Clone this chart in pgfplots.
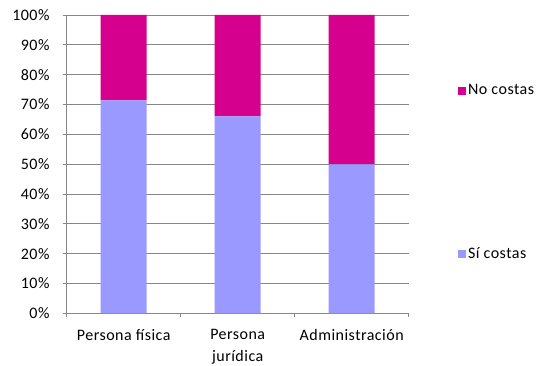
\documentclass[border=0pt]{standalone}
\usepackage{fontspec}
\setmainfont{Carlito}[LetterSpace=3]
\usepackage{pgfplots}
\pgfplotsset{compat=1.18}
\definecolor{mag}{HTML}{D6008F}
\definecolor{lav}{HTML}{9999FF}
\definecolor{gridc}{HTML}{878787}
\begin{document}
\fontsize{16pt}{22pt}\selectfont
\begin{tikzpicture}
\useasboundingbox (-66.7pt,-52.7pt) rectangle (475.3pt,313.3pt);
\begin{axis}[at={(0,0)}, anchor=south west, scale only axis,
  width=342pt, height=298.3pt,
  ybar stacked, bar width=46pt,
  xmin=-0.5, xmax=2.5, ymin=0, ymax=100,
  ytick={0,10,...,100},
  yticklabel={\pgfmathprintnumber{\tick}\%},
  /pgf/number format/assume math mode=true,
  xtick={0,1,2},
  xticklabels={Persona física, {Persona\\jurídica}, Administración},
  minor xtick={-0.5,0.5,1.5,2.5},
  major x tick style={draw=none},
  axis lines*=left,
  axis line style={gridc, line width=0.9pt},
  tick style={gridc, line width=0.9pt},
  tick align=outside,
  major tick length=4pt, minor tick length=4pt,
  ymajorgrids, grid style={gridc, line width=0.9pt},
  yticklabel style={font=\fontsize{16pt}{18pt}\selectfont, anchor=east, inner sep=0pt, xshift=-13pt},
  xticklabel style={font=\fontsize{16pt}{22pt}\selectfont, align=center, anchor=north, inner sep=0pt, yshift=-12pt},
  legend style={draw=none, fill=none, at={(1.144,0.472)}, anchor=west,
    row sep=146pt, font=\fontsize{16pt}{18pt}\selectfont, inner sep=0pt},
  legend cell align=left,
  reverse legend,
  legend image code/.code={\fill[#1] (0pt,-4pt) rectangle (8pt,4pt);},
]
\addplot[fill=lav, draw=none] coordinates {(0,71.4) (1,66.0) (2,49.9)};
\addlegendentry{Sí costas}
\addplot[fill=mag, draw=none] coordinates {(0,28.6) (1,34.0) (2,50.1)};
\addlegendentry{No costas}
\end{axis}
\end{tikzpicture}
\end{document}
